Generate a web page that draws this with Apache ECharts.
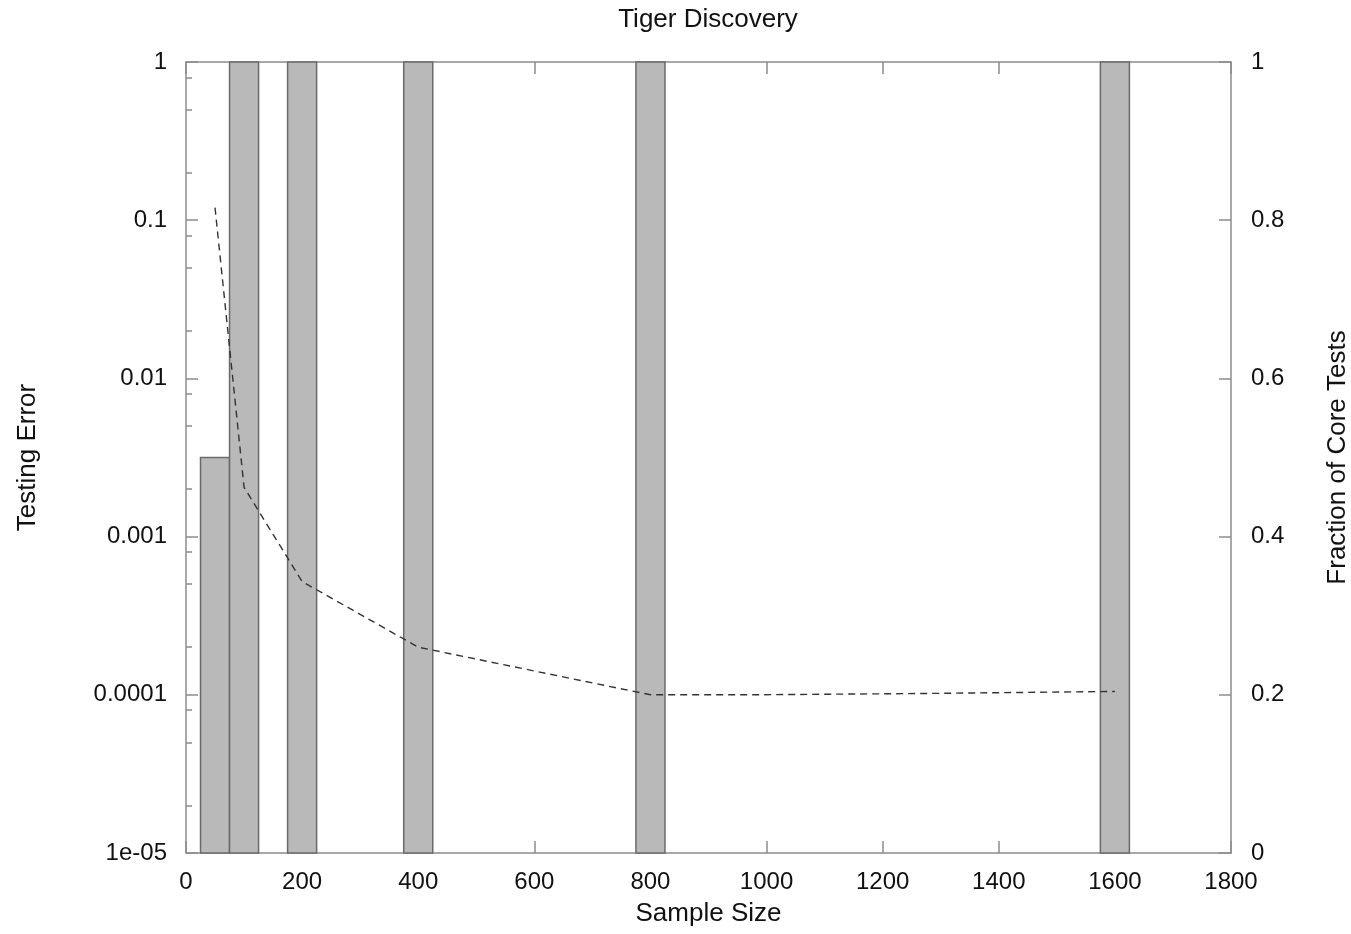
<!DOCTYPE html>
<html>
<head>
<meta charset="utf-8">
<title>Tiger Discovery</title>
<script src="https://cdn.jsdelivr.net/npm/echarts@6/dist/echarts.min.js"></script>
<style>
  html, body { margin: 0; padding: 0; background: #ffffff; }
  #chart { width: 1351px; height: 934px; }
</style>
</head>
<body>
<div id="chart"></div>
<script>
// Fraction of core tests per sample-size bin (right axis)
const binCenters = [50, 100, 200, 400, 800, 1600];
const coreFraction = [0.5, 1, 1, 1, 1, 1];
const binWidth = 50;

// Testing error versus sample size (left, logarithmic axis)
const errorSampleSize = [50, 100, 200, 400, 800, 978, 980, 1280, 1283, 1600];
const testingError = [0.12, 0.00205, 0.00052, 0.0002, 0.0001, 0.0001, 0.000102, 0.000102, 0.000104, 0.000105];

// Axis labels
const leftTickLabels = ['1e-05', '0.0001', '0.001', '0.01', '0.1', '1'];
const minorMultipliers = [2, 5, 8];

const FONT = '"Liberation Sans", Arial, Helvetica, sans-serif';
const AXIS_COLOR = '#8c8c8c';
const TEXT_COLOR = '#111111';
const TICK_FONT_SIZE = 24;
const NAME_FONT_SIZE = 26;

// minor ticks of the log axis, expressed as exponents
const minorTickExponents = [];
for (let e = -5; e < 0; e++) {
  minorMultipliers.forEach(m => minorTickExponents.push(e + Math.log10(m)));
}

const barData = binCenters.map((x, i) => [x, coreFraction[i]]);
const lineData = errorSampleSize.map((x, i) => [x, testingError[i]]);

const axisLineStyle = { color: AXIS_COLOR, width: 1.5 };
const tickLabelStyle = { color: TEXT_COLOR, fontFamily: FONT, fontSize: TICK_FONT_SIZE };
const nameStyle = { color: TEXT_COLOR, fontFamily: FONT, fontSize: NAME_FONT_SIZE };

const chart = echarts.init(document.getElementById('chart'), null, { renderer: 'canvas' });

chart.setOption({
  animation: false,
  backgroundColor: '#ffffff',
  title: {
    text: 'Tiger Discovery',
    left: 708,
    top: 7,
    padding: 0,
    textAlign: 'center',
    textStyle: { color: TEXT_COLOR, fontFamily: FONT, fontSize: NAME_FONT_SIZE, fontWeight: 'normal' }
  },
  grid: { left: 186, right: 120, top: 62, bottom: 81, containLabel: false, outerBoundsMode: 'none' },
  xAxis: [
    {
      type: 'value',
      min: 0, max: 1800, interval: 200,
      position: 'bottom',
      name: 'Sample Size',
      nameLocation: 'middle',
      nameGap: 48,
      nameTextStyle: nameStyle,
      axisLine: { show: true, onZero: false, lineStyle: axisLineStyle },
      axisTick: { show: true, inside: true, length: 12, lineStyle: axisLineStyle },
      axisLabel: Object.assign({ margin: 17, formatter: v => String(v) }, tickLabelStyle),
      splitLine: { show: false }
    },
    {
      type: 'value',
      min: 0, max: 1800, interval: 200,
      position: 'top',
      axisLine: { show: true, onZero: false, lineStyle: axisLineStyle },
      axisTick: { show: true, inside: true, length: 12, lineStyle: axisLineStyle },
      axisLabel: { show: false },
      splitLine: { show: false }
    }
  ],
  yAxis: [
    {
      type: 'log',
      logBase: 10,
      min: 1e-5, max: 1,
      position: 'left',
      name: 'Testing Error',
      nameLocation: 'middle',
      nameRotate: 90,
      nameGap: 145,
      nameTextStyle: nameStyle,
      axisLine: { show: true, onZero: false, lineStyle: axisLineStyle },
      axisTick: { show: true, inside: true, length: 12, lineStyle: axisLineStyle },
      axisLabel: Object.assign({
        margin: 19,
        formatter: v => leftTickLabels[Math.round(Math.log10(v)) + 5]
      }, tickLabelStyle),
      splitLine: { show: false },
      minorTick: { show: false }
    },
    {
      type: 'value',
      min: 0, max: 1, interval: 0.2,
      position: 'right',
      name: 'Fraction of Core Tests',
      nameLocation: 'middle',
      nameRotate: 90,
      nameGap: 94,
      nameTextStyle: nameStyle,
      axisLine: { show: true, onZero: false, lineStyle: axisLineStyle },
      axisTick: { show: true, inside: true, length: 12, lineStyle: axisLineStyle },
      axisLabel: Object.assign({ margin: 20 }, tickLabelStyle),
      splitLine: { show: false }
    },
    {
      // minor ticks for the logarithmic axis (2, 5, 8 within each decade)
      type: 'value',
      min: -5, max: 0,
      position: 'left',
      axisLine: { show: false },
      axisTick: {
        show: true, inside: true, length: 6,
        customValues: minorTickExponents,
        lineStyle: axisLineStyle
      },
      axisLabel: { show: false },
      splitLine: { show: false }
    }
  ],
  series: [
    {
      name: 'Fraction of Core Tests',
      type: 'custom',
      xAxisIndex: 0,
      yAxisIndex: 1,
      data: barData,
      encode: { x: 0, y: 1 },
      z: 2,
      renderItem: (params, api) => {
        const x = api.value(0);
        const y = api.value(1);
        const p0 = api.coord([x - binWidth / 2, 0]);
        const p1 = api.coord([x + binWidth / 2, y]);
        return {
          type: 'rect',
          shape: { x: p0[0], y: p1[1], width: p1[0] - p0[0], height: p0[1] - p1[1] },
          style: { fill: '#b9b9b9', stroke: '#6a6a6a', lineWidth: 1.5 }
        };
      }
    },
    {
      name: 'Testing Error',
      type: 'line',
      xAxisIndex: 0,
      yAxisIndex: 0,
      data: lineData,
      symbol: 'none',
      z: 5,
      lineStyle: { color: '#333333', width: 1.4, type: [7, 5] }
    }
  ]
});
</script>
</body>
</html>
